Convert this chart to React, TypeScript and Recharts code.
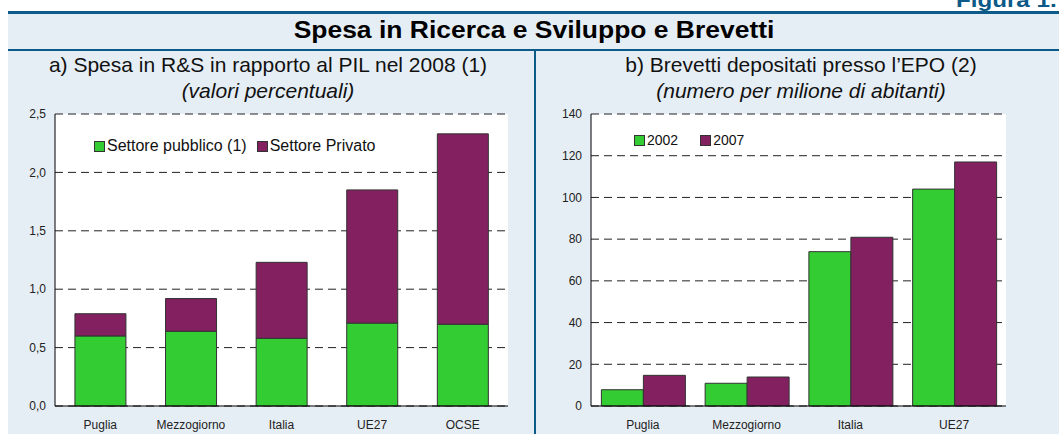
import { BarChart, Bar, XAxis, YAxis, CartesianGrid } from 'recharts';

// a) R&S spending as share of GDP, 2008
const regionsA = ['Puglia', 'Mezzogiorno', 'Italia', 'UE27', 'OCSE'];
const pubblico = [0.60, 0.64, 0.58, 0.71, 0.70];
const privato = [0.19, 0.28, 0.65, 1.14, 1.63];
const ticksA = [0, 0.5, 1, 1.5, 2, 2.5];
const seriesA = ['Settore pubblico (1)', 'Settore Privato'];

// b) EPO patents per million inhabitants
const regionsB = ['Puglia', 'Mezzogiorno', 'Italia', 'UE27'];
const brev2002 = [7.8, 10.9, 74, 104];
const brev2007 = [14.7, 13.9, 80.9, 117];
const ticksB = [0, 20, 40, 60, 80, 100, 120, 140];
const seriesB = ['2002', '2007'];

const dataA = regionsA.map((name, i) => ({ name, pubblico: pubblico[i], privato: privato[i] }));
const dataB = regionsB.map((name, i) => ({ name, y2002: brev2002[i], y2007: brev2007[i] }));

const GREEN = '#33cc33';
const PURPLE = '#822060';
const BLUE = '#0b5a87';
const BG = '#e6eef5';
const FONT = 'Arial, "Liberation Sans", sans-serif';
const COLORS = [GREEN, PURPLE];

const tick = { fontSize: 12, fill: '#222', fontFamily: FONT };

// legend drawn over the plot area, like the original
const LegendBox = ({ names, fontSize, gap, left, top }: {
  names: string[]; fontSize: number; gap: number; left: number; top: number;
}) => (
  <div style={{
    position: 'absolute', left, top, display: 'flex', alignItems: 'center', gap,
    fontFamily: FONT, fontSize, color: '#111', whiteSpace: 'nowrap',
  }}>
    {names.map((n, i) => (
      <div key={n} style={{ display: 'flex', alignItems: 'center', gap: 2 }}>
        <div style={{ width: 9, height: 9, background: COLORS[i], border: '1px solid #333' }} />
        <span>{n}</span>
      </div>
    ))}
  </div>
);

export default function App() {
  return (
    <div style={{
      position: 'absolute', left: 0, top: 0, width: 1059, height: 434,
      background: '#fff', overflow: 'hidden', fontFamily: FONT,
    }}>
      <div style={{
        position: 'absolute', left: 956, top: -11, fontSize: 21, lineHeight: '21px',
        fontWeight: 700, color: BLUE, whiteSpace: 'nowrap',
        transform: 'scaleX(1.15)', transformOrigin: 'left top',
      }}>Figura 1.7</div>

      <div style={{ position: 'absolute', left: 8, top: 11, right: 0, bottom: 0, background: BG }} />
      <div style={{ position: 'absolute', left: 8, top: 11, right: 0, height: 3, background: BLUE }} />
      <div style={{ position: 'absolute', left: 8, top: 49, right: 0, height: 2, background: BLUE }} />
      <div style={{ position: 'absolute', left: 534, top: 51, width: 2, bottom: 0, background: BLUE }} />

      <div style={{
        position: 'absolute', left: 8, right: 0, top: 16, textAlign: 'center',
        fontSize: 23, lineHeight: '28px', fontWeight: 700, color: '#000',
      }}>
        <span style={{ display: 'inline-block', transform: 'scaleX(1.15)' }}>Spesa in Ricerca e Sviluppo e Brevetti</span>
      </div>

      <div style={{ position: 'absolute', left: 8, width: 520, top: 52, textAlign: 'center', color: '#111' }}>
        <div style={{ fontSize: 21, lineHeight: '26px' }}>a) Spesa in R&amp;S in rapporto al PIL nel 2008 (1)</div>
        <div style={{ fontSize: 21, lineHeight: '26px', fontStyle: 'italic' }}>(valori percentuali)</div>
      </div>
      <div style={{ position: 'absolute', left: 536, width: 530, top: 52, textAlign: 'center', color: '#111' }}>
        <div style={{ fontSize: 21, lineHeight: '26px' }}>b) Brevetti depositati presso l’EPO (2)</div>
        <div style={{ fontSize: 21, lineHeight: '26px', fontStyle: 'italic' }}>(numero per milione di abitanti)</div>
      </div>

      <div style={{ position: 'absolute', left: 0, top: 100 }}>
        <BarChart width={530} height={334} data={dataA} margin={{ top: 14, right: 22, left: 15, bottom: 0 }}
          barCategoryGap="22%">
          <CartesianGrid vertical={false} stroke="#222" strokeDasharray="8 5" fill="#fff" />
          <XAxis dataKey="name" tick={tick} tickLine={false} axisLine={{ stroke: '#000' }} height={28} tickMargin={8} />
          <YAxis domain={[0, 2.5]} ticks={ticksA} tick={tick} tickLine={false} width={40} tickMargin={3}
            axisLine={{ stroke: '#000' }} tickFormatter={(v: number) => v.toFixed(1).replace('.', ',')} />
          <YAxis yAxisId="r" orientation="right" domain={[0, 2.5]} ticks={ticksA} tick={false} tickLine={false}
            width={0} axisLine={{ stroke: '#000' }} />
          <Bar dataKey="pubblico" name={seriesA[0]} stackId="a" fill={GREEN} stroke="#333" strokeWidth={1} isAnimationActive={false} />
          <Bar dataKey="privato" name={seriesA[1]} stackId="a" fill={PURPLE} stroke="#333" strokeWidth={1} isAnimationActive={false} />
        </BarChart>
        <LegendBox names={seriesA} fontSize={16} gap={10} left={94} top={37} />
      </div>

      <div style={{ position: 'absolute', left: 535, top: 100 }}>
        <BarChart width={524} height={334} data={dataB} margin={{ top: 14, right: 53, left: 16, bottom: 0 }}
          barCategoryGap="10%" barGap={0}>
          <CartesianGrid vertical={false} stroke="#222" strokeDasharray="8 5" fill="#fff" />
          <XAxis dataKey="name" tick={tick} tickLine={false} axisLine={{ stroke: '#000' }} height={28} tickMargin={8} />
          <YAxis domain={[0, 140]} ticks={ticksB} tick={tick} tickLine={false} width={40} tickMargin={3}
            axisLine={{ stroke: '#000' }} />
          <YAxis yAxisId="r" orientation="right" domain={[0, 140]} ticks={ticksB} tick={false} tickLine={false}
            width={0} axisLine={{ stroke: '#000' }} />
          <Bar dataKey="y2002" name={seriesB[0]} fill={GREEN} stroke="#333" strokeWidth={1} isAnimationActive={false} />
          <Bar dataKey="y2007" name={seriesB[1]} fill={PURPLE} stroke="#333" strokeWidth={1} isAnimationActive={false} />
        </BarChart>
        <LegendBox names={seriesB} fontSize={14} gap={22} left={99} top={32} />
      </div>
    </div>
  );
}
